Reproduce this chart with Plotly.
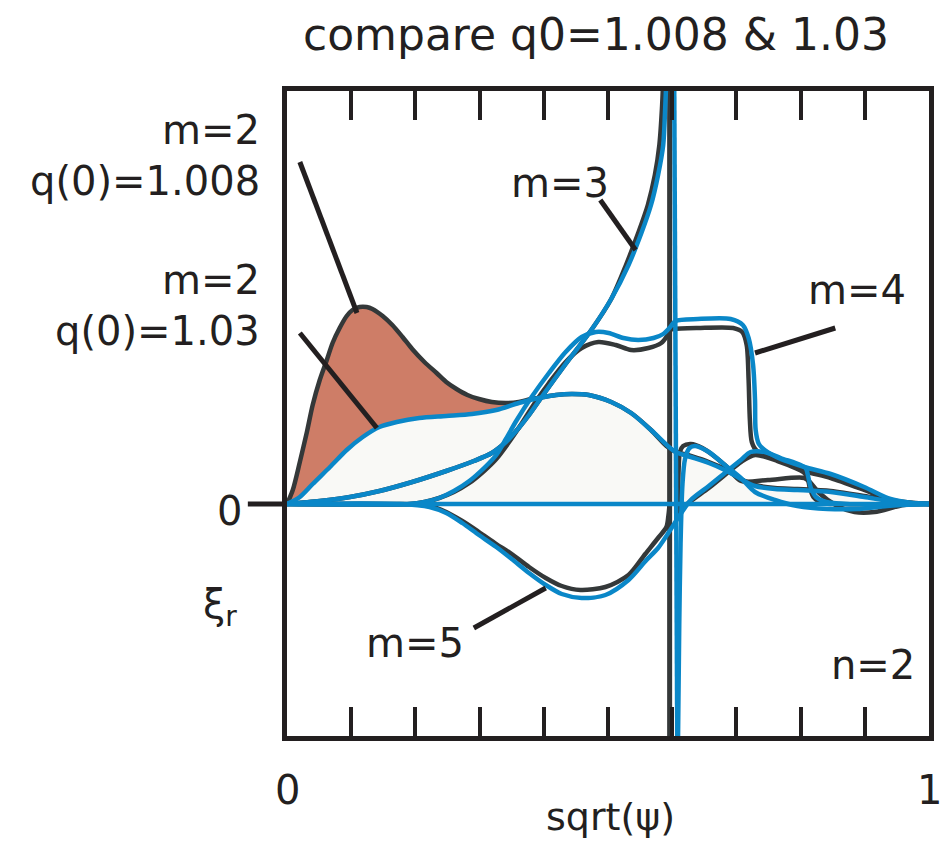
import plotly.graph_objects as go

# ---------------- data (sqrt(psi), xi_r in arbitrary units) ----------------
m2_black_x = [0, 0.009, 0.020, 0.031, 0.040, 0.051, 0.062, 0.071, 0.082, 0.093, 0.102, 0.113, 0.124, 0.133,
              0.149, 0.164, 0.180, 0.195, 0.214, 0.233, 0.248, 0.264, 0.281, 0.299, 0.319, 0.341, 0.361, 0.380,
              0.400, 0.419, 0.443, 0.470, 0.505, 0.536, 0.567, 0.591, 0.603, 0.629, 0.657, 0.682, 0.707, 0.729,
              0.760, 0.795, 0.847, 0.899, 0.950, 1.0]
m2_black_y = [0, 0.14, 0.42, 0.72, 0.99, 1.24, 1.44, 1.61, 1.76, 1.88, 1.94, 1.97, 1.97, 1.95,
              1.88, 1.79, 1.67, 1.55, 1.42, 1.31, 1.22, 1.15, 1.09, 1.05, 1.02, 1.01, 1.02, 1.05,
              1.07, 1.09, 1.10, 1.09, 1.02, 0.91, 0.74, 0.58, 0.53, 0.48, 0.42, 0.35, 0.25, 0.19,
              0.16, 0.15, 0.13, 0.08, 0.02, 0]

m2_blue_x = [0, 0.020, 0.040, 0.067, 0.093, 0.118, 0.144, 0.171, 0.206, 0.248, 0.288, 0.326, 0.361, 0.392,
             0.419, 0.443, 0.470, 0.505, 0.536, 0.567, 0.595, 0.605, 0.629, 0.657, 0.682, 0.707, 0.729,
             0.760, 0.795, 0.847, 0.899, 0.950, 1.0]
m2_blue_y = [0, 0.07, 0.20, 0.37, 0.54, 0.67, 0.77, 0.82, 0.86, 0.88, 0.90, 0.94, 1.01, 1.06,
             1.09, 1.10, 1.09, 1.02, 0.91, 0.74, 0.57, 0.52, 0.47, 0.41, 0.34, 0.25, 0.18,
             0.15, 0.14, 0.12, 0.07, 0.02, 0]

m3_blue_x = [0, 0.051, 0.098, 0.144, 0.195, 0.248, 0.291, 0.319, 0.341, 0.361, 0.377, 0.400, 0.434, 0.474,
             0.505, 0.532, 0.552, 0.567, 0.578, 0.586, 0.589, 0.591, None,
             0.609, 0.611, 0.613, 0.616, 0.620, 0.627, 0.636, 0.657, 0.682, 0.707, 0.729, 0.760, 0.795,
             0.842, 0.888, 0.935, 1.0]
m3_blue_y = [0, 0.03, 0.07, 0.13, 0.22, 0.33, 0.43, 0.51, 0.62, 0.76, 0.89, 1.10, 1.40, 1.74,
             2.05, 2.39, 2.71, 2.99, 3.29, 3.59, 3.95, 4.25, None,
             -2.40, -1.20, -0.40, 0.20, 0.45, 0.56, 0.58, 0.52, 0.39, 0.26, 0.12, 0.04, -0.02,
             -0.05, -0.05, -0.02, 0]

m3_black_x = [0, 0.051, 0.098, 0.144, 0.195, 0.248, 0.291, 0.319, 0.341, 0.361, 0.377, 0.400, 0.434, 0.474,
              0.505, 0.528, 0.547, 0.562, 0.573, 0.580, 0.584, 0.586, None,
              0.609, 0.610, 0.612, 0.617, 0.629, 0.647, 0.682, 0.707, 0.749, 0.806, 0.816, 0.829,
              0.857, 0.884, 0.915, 0.961, 1.0]
m3_black_y = [0, 0.03, 0.07, 0.13, 0.22, 0.33, 0.43, 0.51, 0.62, 0.76, 0.89, 1.10, 1.40, 1.74,
              2.05, 2.39, 2.71, 2.99, 3.29, 3.59, 3.95, 4.25, None,
              -0.16, 0.34, 0.52, 0.58, 0.60, 0.56, 0.39, 0.23, 0.24, 0.26, 0.21, 0.11,
              -0.02, -0.08, -0.08, -0.01, 0]

m4_blue_x = [0, 0.191, 0.214, 0.237, 0.260, 0.284, 0.307, 0.326, 0.341, 0.357, 0.381, 0.408, 0.434, 0.459,
             0.481, 0.501, 0.524, 0.547, 0.571, 0.586, 0.597, 0.605, 0.640, 0.691, 0.710, 0.719, 0.726,
             0.729, 0.730, 0.735, 0.744, 0.769, 0.806, 0.847, 0.899, 0.940, 0.974, 1.0]
m4_blue_y = [0, 0, 0.02, 0.06, 0.13, 0.23, 0.36, 0.49, 0.65, 0.83, 1.07, 1.31, 1.52, 1.67,
             1.72, 1.71, 1.66, 1.64, 1.66, 1.70, 1.77, 1.83, 1.85, 1.85, 1.79, 1.66, 1.39,
             1.04, 0.74, 0.60, 0.54, 0.45, 0.37, 0.30, 0.17, 0.05, 0.01, 0]

m4_black_x = [0, 0.191, 0.214, 0.237, 0.260, 0.284, 0.307, 0.326, 0.346, 0.366, 0.388, 0.408, 0.434, 0.459,
              0.485, 0.512, 0.536, 0.563, 0.583, 0.592, 0.597, 0.602, 0.640, 0.695, 0.709, 0.716, 0.719,
              0.721, 0.724, 0.732, 0.749, 0.784, 0.806, 0.847, 0.899, 0.940, 1.0]
m4_black_y = [0, 0, 0.02, 0.06, 0.12, 0.21, 0.33, 0.45, 0.62, 0.81, 1.03, 1.21, 1.42, 1.56,
              1.62, 1.59, 1.54, 1.56, 1.61, 1.68, 1.74, 1.75, 1.76, 1.76, 1.72, 1.59, 1.24,
              0.84, 0.62, 0.53, 0.49, 0.39, 0.33, 0.26, 0.14, 0.04, 0]

m5_blue_x = [0, 0.175, 0.222, 0.248, 0.273, 0.299, 0.326, 0.350, 0.377, 0.403, 0.428, 0.459, 0.496, 0.532,
             0.560, 0.578, 0.595, 0.609, 0.629, 0.657, 0.682, 0.707, 0.722, 0.744, 0.769, 0.800, 0.808,
             0.812, 0.816, 0.824, 0.840, 0.870, 1.0]
m5_blue_y = [0, 0, -0.03, -0.09, -0.19, -0.31, -0.43, -0.55, -0.69, -0.81, -0.90, -0.94, -0.91, -0.76,
             -0.56, -0.44, -0.28, -0.14, 0.04, 0.18, 0.31, 0.44, 0.52, 0.52, 0.46, 0.39, 0.36,
             0.27, 0.16, 0.07, 0.02, 0, 0]

m5_black_x = [0, 0.175, 0.222, 0.248, 0.273, 0.299, 0.326, 0.350, 0.377, 0.403, 0.428, 0.457, 0.496, 0.532,
              0.558, 0.578, 0.591, 0.594, 0.596, None,
              0.605, 0.629, 0.657, 0.682, 0.707, 0.729, 0.764, 0.795, 0.806, 0.811, 0.814, 0.820,
              0.835, 0.860, 1.0]
m5_black_y = [0, 0, -0.02, -0.08, -0.17, -0.28, -0.40, -0.50, -0.63, -0.74, -0.82, -0.86, -0.83, -0.71,
              -0.50, -0.34, -0.23, -0.12, 0, None,
              -0.10, 0.03, 0.16, 0.29, 0.42, 0.49, 0.43, 0.35, 0.31, 0.26, 0.17, 0.07,
              0.01, 0, 0]

# rational surface (q = 3/2) positions for the two equilibria
res_black_x = [0.596, 0.596]
res_blue_x = [0.603, 0.608]
res_y = [4.4, -2.5]

x_ticks = [0.1, 0.2, 0.3, 0.4, 0.5, 0.6, 0.7, 0.8, 0.9]

# ---------------- styles ----------------
BLUE = "#0A87C8"
DARK = "#343839"
FRAME = "#231F20"
SALMON = "#CE7D67"
PALE = "#F9F9F6"
FONT = "DejaVu Sans"
LW = 4.5
Y_RANGE = [-2.32, 4.13]

fig = go.Figure()

# pale fill under blue m=2
fig.add_trace(go.Scatter(x=m2_blue_x, y=m2_blue_y, mode="lines", fill="tozeroy",
                         fillcolor=PALE, line=dict(width=0, shape="spline", smoothing=0.8),
                         hoverinfo="skip"))

# salmon fill between the two m=2 curves
join = 0.38
fx = [x for x in m2_black_x if x <= join]
fy = [y for x, y in zip(m2_black_x, m2_black_y) if x <= join]
bx = [x for x in m2_blue_x if x <= join][::-1]
by = [y for x, y in zip(m2_blue_x, m2_blue_y) if x <= join][::-1]
fig.add_trace(go.Scatter(x=fx + bx, y=fy + by, mode="lines", fill="toself", fillcolor=SALMON,
                         line=dict(width=0, shape="spline", smoothing=0.8), hoverinfo="skip"))

def curve(x, y, color):
    fig.add_trace(go.Scatter(x=x, y=y, mode="lines", connectgaps=False,
                             line=dict(color=color, width=LW, shape="spline", smoothing=0.8),
                             hoverinfo="skip"))

# q(0)=1.008 (dark) curves
for xs, ys in [(m2_black_x, m2_black_y), (m3_black_x, m3_black_y),
               (m4_black_x, m4_black_y), (m5_black_x, m5_black_y)]:
    curve(xs, ys, DARK)
fig.add_trace(go.Scatter(x=res_black_x, y=res_y, mode="lines",
                         line=dict(color=DARK, width=5), hoverinfo="skip"))

# q(0)=1.03 (blue) curves
for xs, ys in [(m5_blue_x, m5_blue_y), (m4_blue_x, m4_blue_y),
               (m3_blue_x, m3_blue_y), (m2_blue_x, m2_blue_y)]:
    curve(xs, ys, BLUE)
fig.add_trace(go.Scatter(x=res_blue_x, y=res_y, mode="lines",
                         line=dict(color=BLUE, width=LW), hoverinfo="skip"))
# zero line
fig.add_trace(go.Scatter(x=[0, 1], y=[0, 0], mode="lines",
                         line=dict(color=BLUE, width=LW), hoverinfo="skip"))

# leader lines
leaders = [((0.020, 3.42), (0.109, 1.91)),
           ((0.020, 1.71), (0.140, 0.76)),
           ((0.488, 3.04), (0.543, 2.54)),
           ((0.729, 1.51), (0.854, 1.76)),
           ((0.291, -1.24), (0.403, -0.84))]
shapes = []
for (x0, y0), (x1, y1) in leaders:
    shapes.append(dict(type="line", xref="x", yref="y", x0=x0, y0=y0, x1=x1, y1=y1,
                       line=dict(color=FRAME, width=5)))
# zero tick outside the left axis
shapes.append(dict(type="line", xref="paper", yref="y", x0=-0.061, x1=0, y0=0, y1=0,
                   line=dict(color=FRAME, width=5)))

def txt(s, x, y, size=40, xanchor="center"):
    return dict(text=s, x=x, y=y, xref="paper", yref="paper", showarrow=False,
                xanchor=xanchor, yanchor="middle", font=dict(family=FONT, size=size, color=FRAME))

annotations = [
    txt("compare q0=1.008 &amp; 1.03", 0.482, 1.087, size=44),
    txt("m=2", -0.0388, 0.940, xanchor="right"),
    txt("q(0)=1.008", -0.0388, 0.861, xanchor="right"),
    txt("m=2", -0.0388, 0.707, xanchor="right"),
    txt("q(0)=1.03", -0.0388, 0.628, xanchor="right"),
    txt("0", -0.090, 0.349),
    txt("ξ<sub>r</sub>", -0.104, 0.200),
    txt("m=3", 0.426, 0.857),
    txt("m=4", 0.888, 0.691),
    txt("m=5", 0.200, 0.144),
    txt("n=2", 0.913, 0.110),
    txt("0", 0.0, -0.084),
    txt("1", 1.0, -0.084),
    txt("sqrt(ψ)", 0.504, -0.126, size=38),
]

fig.update_layout(
    width=946, height=843,
    margin=dict(l=287, r=14, t=91, b=107),
    paper_bgcolor="white", plot_bgcolor="white",
    showlegend=False,
    shapes=shapes,
    annotations=annotations,
    xaxis=dict(range=[0, 1], showgrid=False, zeroline=False, showline=True, linewidth=5,
               linecolor=FRAME, mirror="ticks", ticks="inside", ticklen=29, tickwidth=4,
               tickcolor=FRAME, tickvals=x_ticks, showticklabels=False),
    yaxis=dict(range=Y_RANGE, showgrid=False, zeroline=False, showline=True, linewidth=5,
               linecolor=FRAME, mirror=True, ticks="", showticklabels=False),
)

fig.write_html("out.html")
